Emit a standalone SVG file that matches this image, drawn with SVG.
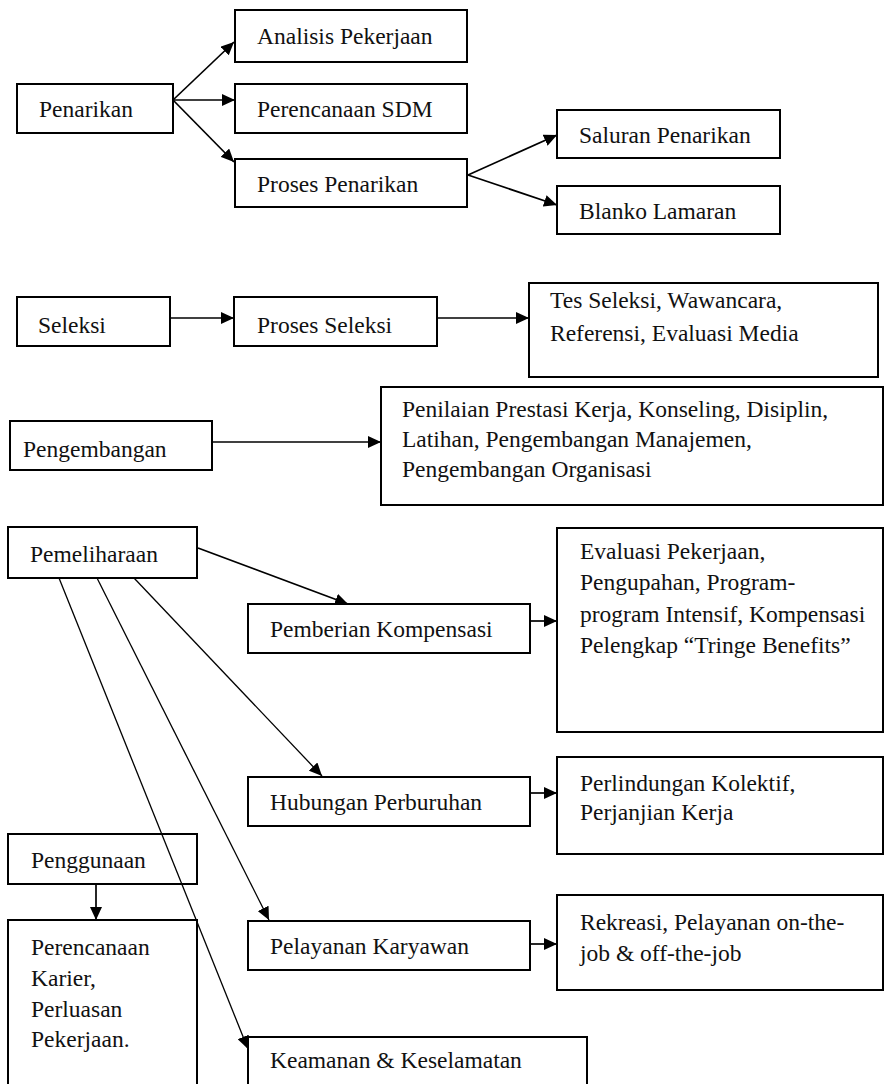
<svg xmlns="http://www.w3.org/2000/svg" width="885" height="1084" viewBox="0 0 885 1084">
<style>
.box{fill:#fff;stroke:#000;stroke-width:2}
.t{font-family:"Liberation Serif","Times New Roman",serif;font-size:23.5px;fill:#111}
.c{stroke:#000;stroke-width:1.7;fill:none}
.thin{stroke:#000;stroke-width:1.3;fill:none}
</style>
<defs>
<marker id="ah" markerUnits="userSpaceOnUse" markerWidth="14" markerHeight="12" refX="13" refY="6" orient="auto">
<path d="M0,0 L13,6 L0,12 z" fill="#000"/>
</marker>
</defs>
<rect width="885" height="1084" fill="#fff"/>

<g id="penarikan"><rect class="box" x="17" y="84" width="156" height="49"/><text class="t" x="39" y="117">Penarikan</text></g>
<g id="analisis"><rect class="box" x="235" y="10" width="232" height="52"/><text class="t" x="257" y="44">Analisis Pekerjaan</text></g>
<g id="perencanaan-sdm"><rect class="box" x="235" y="84" width="232" height="49"/><text class="t" x="257" y="117">Perencanaan SDM</text></g>
<g id="proses-penarikan"><rect class="box" x="235" y="159" width="232" height="48"/><text class="t" x="257" y="192">Proses Penarikan</text></g>
<g id="saluran"><rect class="box" x="557" y="110" width="223" height="48"/><text class="t" x="579" y="143">Saluran Penarikan</text></g>
<g id="blanko"><rect class="box" x="557" y="186" width="223" height="48"/><text class="t" x="579" y="219">Blanko Lamaran</text></g>

<g id="seleksi"><rect class="box" x="17" y="297" width="153" height="49"/><text class="t" x="38" y="333">Seleksi</text></g>
<g id="proses-seleksi"><rect class="box" x="234" y="297" width="203" height="49"/><text class="t" x="257" y="333">Proses Seleksi</text></g>
<g id="tes-seleksi"><rect class="box" x="529" y="283" width="349" height="94"/><text class="t" x="550" y="308">Tes Seleksi, Wawancara,</text><text class="t" x="550" y="341">Referensi, Evaluasi Media</text></g>

<g id="pengembangan"><rect class="box" x="10" y="421" width="202" height="49"/><text class="t" x="23" y="457">Pengembangan</text></g>
<g id="pengembangan-detail"><rect class="box" x="381" y="387" width="502" height="118"/><text class="t" x="402" y="417">Penilaian Prestasi Kerja, Konseling, Disiplin,</text><text class="t" x="402" y="447">Latihan, Pengembangan Manajemen,</text><text class="t" x="402" y="477">Pengembangan Organisasi</text></g>

<g id="pemeliharaan"><rect class="box" x="8" y="527" width="189" height="51"/><text class="t" x="30" y="562">Pemeliharaan</text></g>
<g id="pemberian"><rect class="box" x="248" y="604" width="282" height="49"/><text class="t" x="270" y="637">Pemberian Kompensasi</text></g>
<g id="evaluasi"><rect class="box" x="557" y="528" width="326" height="204"/><text class="t" x="580" y="559">Evaluasi Pekerjaan,</text><text class="t" x="580" y="590">Pengupahan, Program-</text><text class="t" x="580" y="622">program Intensif, Kompensasi</text><text class="t" x="580" y="653">Pelengkap “Tringe Benefits”</text></g>

<g id="hubungan"><rect class="box" x="248" y="777" width="282" height="49"/><text class="t" x="270" y="810">Hubungan Perburuhan</text></g>
<g id="perlindungan"><rect class="box" x="557" y="757" width="326" height="97"/><text class="t" x="580" y="791">Perlindungan Kolektif,</text><text class="t" x="580" y="820">Perjanjian Kerja</text></g>

<g id="penggunaan"><rect class="box" x="8" y="834" width="189" height="50"/><text class="t" x="31" y="868">Penggunaan</text></g>
<g id="perencanaan-karier"><rect class="box" x="8" y="920" width="189" height="180"/><text class="t" x="31" y="955">Perencanaan</text><text class="t" x="31" y="986">Karier,</text><text class="t" x="31" y="1017">Perluasan</text><text class="t" x="31" y="1047">Pekerjaan.</text></g>

<g id="pelayanan"><rect class="box" x="248" y="921" width="282" height="49"/><text class="t" x="270" y="954">Pelayanan Karyawan</text></g>
<g id="rekreasi"><rect class="box" x="557" y="895" width="326" height="95"/><text class="t" x="580" y="930">Rekreasi, Pelayanan on-the-</text><text class="t" x="580" y="961">job &amp; off-the-job</text></g>

<g id="keamanan"><rect class="box" x="248" y="1037" width="339" height="60"/><text class="t" x="270" y="1068">Keamanan &amp; Keselamatan</text></g>

<g id="connectors">
<line class="c" x1="173" y1="100" x2="234" y2="42" marker-end="url(#ah)"/>
<line class="c" x1="173" y1="100" x2="235" y2="100" marker-end="url(#ah)"/>
<line class="c" x1="173" y1="100" x2="234" y2="162" marker-end="url(#ah)"/>
<line class="c" x1="468" y1="175" x2="557" y2="135" marker-end="url(#ah)"/>
<line class="c" x1="468" y1="175" x2="557" y2="205" marker-end="url(#ah)"/>
<line class="c" x1="170" y1="318" x2="234" y2="318" marker-end="url(#ah)"/>
<line class="c" x1="437" y1="318" x2="529" y2="318" marker-end="url(#ah)"/>
<line class="c" x1="212" y1="442" x2="381" y2="442" marker-end="url(#ah)"/>
<line class="c" x1="198" y1="548" x2="348" y2="604" marker-end="url(#ah)"/>
<line class="c" x1="530" y1="621" x2="557" y2="621" marker-end="url(#ah)"/>
<line class="thin" x1="134" y1="578" x2="322" y2="776" marker-end="url(#ah)"/>
<line class="c" x1="530" y1="793" x2="557" y2="793" marker-end="url(#ah)"/>
<line class="thin" x1="97" y1="578" x2="269" y2="920" marker-end="url(#ah)"/>
<line class="c" x1="530" y1="944" x2="557" y2="944" marker-end="url(#ah)"/>
<line class="thin" x1="59" y1="578" x2="248" y2="1049" marker-end="url(#ah)"/>
<line class="c" x1="96" y1="884" x2="96" y2="920" marker-end="url(#ah)"/>
</g>
</svg>
